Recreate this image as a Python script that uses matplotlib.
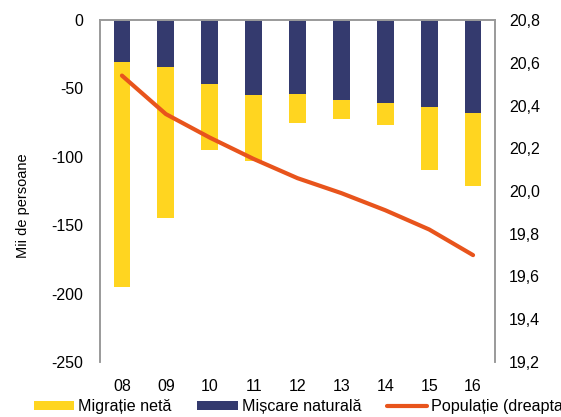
import matplotlib
matplotlib.use("Agg")
import matplotlib.pyplot as plt
import numpy as np

# Years (2008-2016) and components of population change, thousands of persons
years = ["08", "09", "10", "11", "12", "13", "14", "15", "16"]
natural_change = [-31, -34, -47, -55, -54, -58.5, -61, -63.5, -68]
net_migration = [-164, -111, -48, -48, -21.5, -14, -15.5, -46.5, -53.5]
# Resident population, millions (right axis)
population = [20.54, 20.36, 20.25, 20.15, 20.06, 19.99, 19.91, 19.82, 19.70]

left_ticks = [0, -50, -100, -150, -200, -250]
right_ticks = [20.8, 20.6, 20.4, 20.2, 20.0, 19.8, 19.6, 19.4, 19.2]

YELLOW = "#FFD520"
NAVY = "#343A6E"
ORANGE = "#E8541C"
SPINE = "#9A9A9A"

plt.rcParams["font.family"] = ["Liberation Sans", "DejaVu Sans"]

fig = plt.figure(figsize=(5.61, 4.17), dpi=100)
ax = fig.add_axes([100 / 561, 1 - 362 / 417, 395 / 561, 342 / 417])

x = np.arange(len(years))
w = 0.38
b1 = ax.bar(x, net_migration, w, bottom=natural_change, color=YELLOW,
            edgecolor="none", label="Migrație netă", zorder=2)
b2 = ax.bar(x, natural_change, w, color=NAVY, edgecolor="none",
            label="Mișcare naturală", zorder=2)

ax.set_xlim(-0.5, len(years) - 0.5)
ax.set_ylim(-250, 0)
ax.set_yticks(left_ticks)
ax.set_yticklabels([str(t) for t in left_ticks])
ax.set_xticks(x)
ax.set_xticklabels(years)
ax.tick_params(axis="both", length=0, labelsize=11.5)
ax.tick_params(axis="y", pad=12)
ax.tick_params(axis="x", pad=12)
for side in ["top", "left", "right"]:
    ax.spines[side].set_color(SPINE)
    ax.spines[side].set_linewidth(1.2)
ax.spines["bottom"].set_visible(False)

ax2 = ax.twinx()
ln, = ax2.plot(x, population, color=ORANGE, lw=3, solid_capstyle="round",
               label="Populație (dreapta)", zorder=3)
ax2.set_ylim(19.2, 20.8)
ax2.set_yticks(right_ticks)
ax2.set_yticklabels([f"{t:.1f}".replace(".", ",") for t in right_ticks])
ax2.tick_params(axis="y", length=0, labelsize=11.5, pad=10)
for side in ["top", "left", "right"]:
    ax2.spines[side].set_color(SPINE)
    ax2.spines[side].set_linewidth(1.2)
ax2.spines["bottom"].set_visible(False)

fig.text(23 / 561, 1 - 206 / 417, "Mii de persoane", rotation=90,
         ha="center", va="center", fontsize=10.5)

fig.legend(handles=[b1, b2, ln], loc="center left",
           bbox_to_anchor=(34 / 561, 1 - 407 / 417), ncol=3, frameon=False,
           fontsize=11.6, handlelength=2.5, handleheight=0.5,
           handletextpad=0.25, columnspacing=1.6, borderpad=0,
           borderaxespad=0)

fig.savefig("out.png", dpi=100)
